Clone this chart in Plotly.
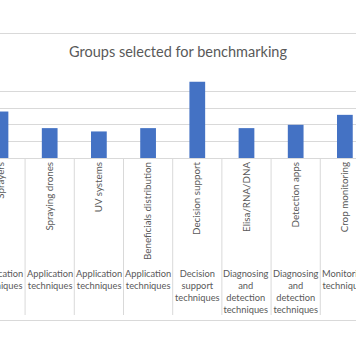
import textwrap
import plotly.graph_objects as go

categories = ["Sprayers", "Spraying drones", "UV systems", "Beneficials distribution",
              "Decision support", "Elisa/RNA/DNA", "Detection apps", "Crop monitoring"]
groups = ["Application techniques", "Application techniques", "Application techniques",
          "Application techniques", "Decision support techniques",
          "Diagnosing and detection techniques", "Diagnosing and detection techniques",
          "Monitoring techniques"]
counts = [14, 9, 8, 9, 23, 9, 10, 13]
title_text = "Groups selected for benchmarking"

W, H = 356, 364
T, B = 75, 206
PH = H - T - B  # plot height in px
FONT = "Lato"
GRAY = "#595959"
LINE = "#d9d9d9"


def py(p):
    """pixel row -> paper y"""
    return (H - B - p) / PH


idx = list(range(len(categories)))
fig = go.Figure(go.Bar(x=idx, y=counts, marker=dict(color="#4472C4", line=dict(width=0))))

shapes = []
for i in range(-1, len(categories)):
    shapes.append(dict(type="line", xref="x", yref="paper", x0=i + 0.5, x1=i + 0.5,
                       y0=0, y1=py(315), line=dict(color=LINE, width=1)))
for p in (33.5, 320.5):
    shapes.append(dict(type="line", xref="paper", yref="paper", x0=-0.1, x1=1.1,
                       y0=py(p), y1=py(p), line=dict(color=LINE, width=1)))

annotations = []
for i, g in enumerate(groups):
    annotations.append(dict(x=i, y=py(266), xref="x", yref="paper", yanchor="top",
                            xanchor="center", align="center", showarrow=False,
                            text="<br>".join(textwrap.wrap(g, 11)),
                            font=dict(family=FONT, size=9.3, color=GRAY)))

fig.update_layout(
    width=W, height=H,
    margin=dict(l=0, r=0, t=T, b=B, pad=0, autoexpand=False),
    paper_bgcolor="white", plot_bgcolor="white",
    bargap=0.68,
    showlegend=False,
    hovermode=False,
    title=dict(text=title_text, x=0.5, xanchor="center", yref="container",
               y=1 - 52 / H, yanchor="middle",
               font=dict(family=FONT, size=14.5, color=GRAY)),
    xaxis=dict(range=[-0.01, 7.226], tickmode="array", tickvals=idx, ticktext=categories,
               tickangle=-90, showline=True, linecolor=LINE, linewidth=1,
               showgrid=False, ticks="", ticklabelstandoff=-1, automargin=False,
               ticklabeloverflow="allow",
               tickfont=dict(family=FONT, size=9.8, color=GRAY)),
    yaxis=dict(range=[0, 25], dtick=5, showgrid=True, gridcolor=LINE, gridwidth=1,
               showticklabels=False, zeroline=False, showline=False, fixedrange=True,
               automargin=False),
    shapes=shapes,
    annotations=annotations,
)

fig.write_html("out.html", config={"displayModeBar": False, "staticPlot": True},
               post_script="document.body.style.margin='0';document.body.style.overflow='hidden';")
